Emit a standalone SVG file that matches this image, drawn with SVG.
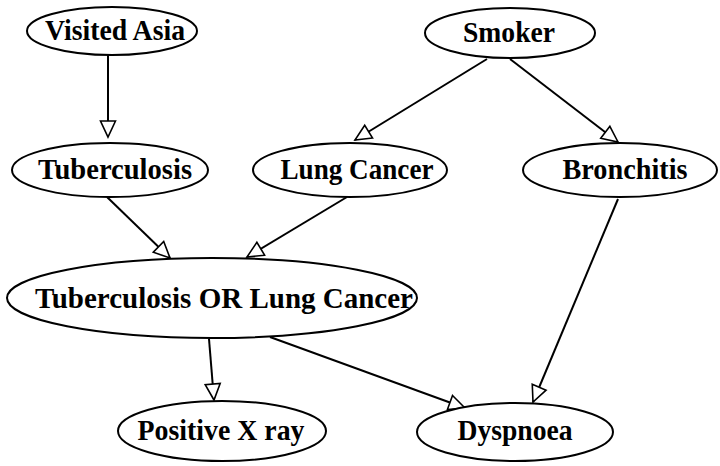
<svg xmlns="http://www.w3.org/2000/svg" width="720" height="466" viewBox="0 0 720 466">
<style>
.node ellipse{fill:#fff;stroke:#000;stroke-width:2}
.node text{font-family:"Liberation Serif","Times New Roman",serif;font-weight:bold;font-size:30px;text-anchor:middle;fill:#000}
.edge line{stroke:#000;stroke-width:2;marker-end:url(#arr)}
</style>
<defs>
<marker id="arr" markerUnits="userSpaceOnUse" viewBox="-2 -2 21 19" markerWidth="21" markerHeight="19" refX="16" refY="7.5" orient="auto">
<path d="M0,0 L16,7.5 L0,15 Z" fill="#fff" stroke="#000" stroke-width="1.6"/>
</marker>
</defs>
<rect width="720" height="466" fill="#fff"/>
<g id="edges" class="edge">
<line x1="108" y1="55" x2="108" y2="137"/>
<line x1="487" y1="59" x2="355" y2="140"/>
<line x1="510" y1="59" x2="618" y2="142"/>
<line x1="107" y1="197" x2="170" y2="258"/>
<line x1="347" y1="197" x2="247" y2="257"/>
<line x1="209" y1="339" x2="214" y2="400"/>
<line x1="270" y1="337" x2="465" y2="408"/>
<line x1="618" y1="199" x2="533" y2="402"/>
</g>
<g id="visited_asia" class="node"><ellipse cx="112" cy="31" rx="85" ry="24"/><text x="115" y="40" textLength="140" lengthAdjust="spacingAndGlyphs">Visited Asia</text></g>
<g id="smoker" class="node"><ellipse cx="510" cy="33" rx="85" ry="25"/><text x="509" y="42" textLength="92" lengthAdjust="spacingAndGlyphs">Smoker</text></g>
<g id="tuberculosis" class="node"><ellipse cx="110" cy="170" rx="98" ry="27"/><text x="115" y="179" textLength="154" lengthAdjust="spacingAndGlyphs">Tuberculosis</text></g>
<g id="lung_cancer" class="node"><ellipse cx="350" cy="170" rx="97" ry="27"/><text x="357" y="179" textLength="153" lengthAdjust="spacingAndGlyphs">Lung Cancer</text></g>
<g id="bronchitis" class="node"><ellipse cx="620" cy="170" rx="97" ry="27"/><text x="625" y="179" textLength="125" lengthAdjust="spacingAndGlyphs">Bronchitis</text></g>
<g id="tb_or_lc" class="node"><ellipse cx="212" cy="298" rx="205" ry="40"/><text x="224" y="308" textLength="378" lengthAdjust="spacingAndGlyphs">Tuberculosis OR Lung Cancer</text></g>
<g id="positive_xray" class="node"><ellipse cx="222" cy="431" rx="104" ry="30"/><text x="221" y="440" textLength="167" lengthAdjust="spacingAndGlyphs">Positive X ray</text></g>
<g id="dyspnoea" class="node"><ellipse cx="515" cy="432" rx="98" ry="29"/><text x="515" y="440" textLength="115" lengthAdjust="spacingAndGlyphs">Dyspnoea</text></g>
</svg>
